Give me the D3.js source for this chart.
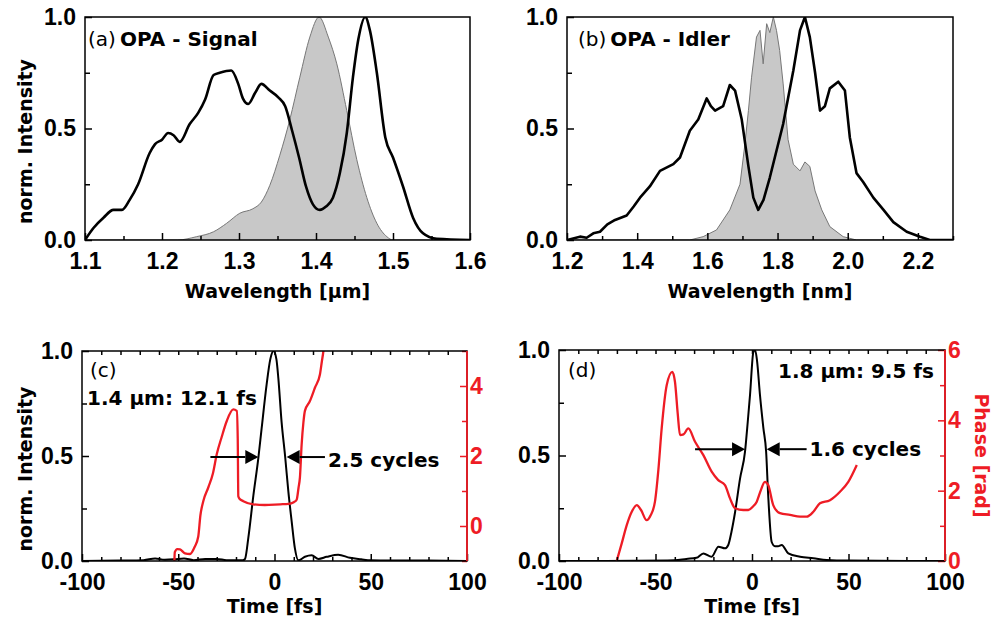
<!DOCTYPE html>
<html>
<head>
<meta charset="utf-8">
<script src="https://cdn.jsdelivr.net/npm/d3@7"></script>
<style>
  body { margin: 0; background: #fff; }
</style>
</head>
<body>
<script>
// canvas size
const W = 994;
const H = 626;

// (a) OPA signal spectra: [wavelength µm, norm. intensity]
const signalGray = [[1.100,0],[1.220,0],[1.245,0.015],[1.267,0.037],[1.284,0.075],[1.301,0.12],[1.318,0.14],[1.329,0.17],[1.340,0.245],[1.353,0.38],[1.366,0.54],[1.379,0.73],[1.392,0.91],[1.404,1.0],[1.416,0.91],[1.427,0.79],[1.440,0.58],[1.453,0.36],[1.466,0.19],[1.479,0.075],[1.492,0.015],[1.500,0],[1.600,0]];
const signalBlack = [[1.100,0.00],[1.111,0.054],[1.124,0.10],[1.137,0.135],[1.148,0.135],[1.158,0.18],[1.169,0.25],[1.184,0.39],[1.191,0.43],[1.200,0.45],[1.208,0.48],[1.215,0.47],[1.223,0.44],[1.236,0.52],[1.247,0.57],[1.256,0.63],[1.267,0.74],[1.275,0.75],[1.290,0.76],[1.299,0.70],[1.305,0.635],[1.312,0.61],[1.321,0.66],[1.329,0.70],[1.340,0.67],[1.351,0.64],[1.360,0.60],[1.369,0.49],[1.378,0.37],[1.387,0.24],[1.396,0.16],[1.405,0.135],[1.413,0.15],[1.422,0.19],[1.431,0.30],[1.440,0.48],[1.448,0.73],[1.455,0.90],[1.464,1.00],[1.470,0.94],[1.479,0.75],[1.490,0.46],[1.500,0.37],[1.513,0.24],[1.526,0.10],[1.539,0.03],[1.557,0.005],[1.600,0.00]];

// (b) OPA idler spectra
const idlerGray = [[1.200,0],[1.550,0],[1.588,0.015],[1.626,0.045],[1.664,0.135],[1.693,0.25],[1.707,0.43],[1.717,0.58],[1.726,0.73],[1.740,0.91],[1.750,0.94],[1.759,0.79],[1.769,0.97],[1.778,0.93],[1.788,1.00],[1.797,0.94],[1.806,0.85],[1.816,0.70],[1.830,0.45],[1.845,0.34],[1.864,0.31],[1.878,0.35],[1.892,0.33],[1.907,0.22],[1.926,0.135],[1.949,0.06],[1.987,0.015],[2.025,0],[2.300,0]];
const idlerBlack = [[1.200,0],[1.237,0.015],[1.256,0.01],[1.275,0.03],[1.294,0.037],[1.315,0.07],[1.337,0.09],[1.370,0.11],[1.390,0.15],[1.408,0.19],[1.436,0.24],[1.465,0.31],[1.503,0.34],[1.522,0.37],[1.550,0.49],[1.574,0.54],[1.598,0.635],[1.610,0.60],[1.622,0.58],[1.645,0.60],[1.664,0.695],[1.679,0.67],[1.698,0.54],[1.717,0.33],[1.731,0.19],[1.745,0.135],[1.760,0.18],[1.778,0.28],[1.816,0.52],[1.845,0.76],[1.864,0.94],[1.878,1.00],[1.892,0.91],[1.907,0.75],[1.921,0.58],[1.935,0.60],[1.949,0.68],[1.973,0.71],[1.992,0.67],[2.006,0.46],[2.025,0.30],[2.044,0.26],[2.073,0.19],[2.102,0.135],[2.130,0.08],[2.168,0.037],[2.206,0.015],[2.234,0],[2.300,0]];

// (c) 1.4 µm pulse: [time fs, intensity] and phase [time fs, rad]
const pulse14 = [[-100,0],[-80,0.002],[-68,0.004],[-62,0.012],[-57,0.006],[-52,0.008],[-47,0.012],[-42,0.004],[-36,0.01],[-30,0.01],[-25,0.004],[-20,0.003],[-16.5,0.003],[-15.3,0.01],[-13.6,0.11],[-11.0,0.31],[-8.4,0.49],[-6.7,0.63],[-4.1,0.84],[-2.2,0.96],[-0.5,1.0],[1.0,0.96],[2.0,0.87],[3.7,0.66],[5.5,0.50],[7.2,0.33],[8.9,0.19],[10.6,0.06],[12.4,0.003],[15.8,0.02],[19.3,0.027],[22.8,0.01],[27.1,0.02],[33.1,0.03],[39.2,0.015],[45,0.008],[50,0.003],[60,0.002],[75,0.002],[100,0]];
const phase14 = [[-52.0,-1],[-51.8,-0.75],[-50.5,-0.66],[-49.1,-0.67],[-46.5,-0.78],[-43.9,-0.80],[-41.5,-0.6],[-39.6,-0.3],[-38.5,0.3],[-37,0.71],[-34.4,1.1],[-32,1.5],[-30,2.05],[-27.4,2.55],[-24.8,3.0],[-21.4,3.33],[-19.6,3.29],[-19.1,2.5],[-18.8,0.85],[-18.2,0.78],[-16.2,0.71],[-11,0.62],[-5,0.60],[2.9,0.62],[7.2,0.63],[10,0.68],[11.5,0.75],[12.5,1.1],[13.2,1.38],[14.1,2.33],[15.0,2.95],[15.8,3.29],[18.4,3.57],[21.0,3.95],[23.6,4.33],[24.6,4.7],[25.4,5.0],[25.6,5.1]];

// (d) 1.8 µm pulse and phase
const pulse18 = [[-100,0],[-60,0.001],[-40,0.003],[-34,0.01],[-28.8,0.015],[-25.2,0.036],[-20.9,0.02],[-17.4,0.068],[-14,0.06],[-12.3,0.076],[-10.6,0.14],[-8.8,0.23],[-6.2,0.39],[-3.6,0.52],[-2.2,0.66],[-1,0.79],[0.7,0.99],[1.6,1.0],[2.6,0.95],[4.1,0.79],[5.9,0.63],[7.3,0.52],[8.4,0.31],[10.2,0.09],[11.9,0.07],[13.5,0.07],[15.4,0.076],[18.8,0.036],[24.9,0.02],[31.8,0.013],[38.7,0.005],[50,0.002],[100,0]];
const phase18 = [[-70.1,0],[-67.5,0.5],[-64.9,1.02],[-62.3,1.4],[-59.7,1.59],[-57.5,1.45],[-54.6,1.16],[-52.5,1.3],[-50.3,1.68],[-48.5,2.6],[-46.8,3.77],[-44.2,5.0],[-41.3,5.38],[-39.9,5.09],[-38.5,4.2],[-37.3,3.58],[-35.5,3.6],[-33,3.77],[-29.5,3.39],[-25.2,3.01],[-20.9,2.54],[-17.5,2.30],[-14,2.16],[-11.4,1.78],[-8.8,1.50],[-4.5,1.45],[-1.9,1.45],[0.5,1.55],[2.4,1.68],[4.5,2.0],[6.7,2.25],[8.4,2.16],[11,1.59],[14.5,1.36],[19.7,1.31],[24.9,1.26],[28.3,1.26],[31.8,1.40],[35.2,1.64],[40.4,1.73],[45.6,1.97],[49.9,2.25],[54.3,2.73]];

// FWHM arrows: [tail time, tip time, intensity level]
const arrows14 = [[-33.3, -8.4, 0.495], [26.2, 6.3, 0.495]];
const arrows18 = [[-29.5, -3.6, 0.53], [28.3, 7.6, 0.53]];

// tick values
const ticksA = [1.1, 1.2, 1.3, 1.4, 1.5, 1.6];
const ticksB = [1.2, 1.4, 1.6, 1.8, 2.0, 2.2];
const ticksTime = [-100, -50, 0, 50, 100];
const ticksInt = [0, 0.5, 1];
const ticksPhaseC = [0, 2, 4];
const ticksPhaseD = [0, 2, 4, 6];

const tickFont = "'Liberation Sans', Arial, sans-serif";
const textFont = "'DejaVu Sans', sans-serif";
const red = "#ee1c25";

const svg = d3.select("body").append("svg").attr("width", W).attr("height", H);

// add an axis group, strip the domain line, set tick fonts
function addAxis(g, gen, tx, ty, color) {
  const a = g.append("g")
    .attr("transform", `translate(${tx},${ty})`)
    .call(gen)
    .attr("font-family", tickFont)
    .attr("font-size", 23)
    .attr("font-weight", "bold")
    .attr("color", color || "#000");
  a.select(".domain").remove();
  a.selectAll("line").attr("stroke-width", 1.5);
  return a;
}

// set up one panel: scales, clip area, ticks
function panel(id, box, xDomain, xTicks, xMinor, xFmt, yDomain) {
  const x = d3.scaleLinear().domain(xDomain).range([box.left, box.right]);
  const y = d3.scaleLinear().domain(yDomain || [0, 1]).range([box.bottom, box.top]);
  const g = svg.append("g").attr("id", id);
  svg.append("clipPath").attr("id", "clip-" + id).append("rect")
    .attr("x", box.left).attr("y", box.top)
    .attr("width", box.right - box.left).attr("height", box.bottom - box.top);
  const plot = g.append("g").attr("clip-path", `url(#clip-${id})`);

  // bottom ticks (inward)
  addAxis(g, d3.axisBottom(x).tickValues(xMinor).tickSize(-4).tickFormat(""), 0, box.bottom);
  addAxis(g, d3.axisBottom(x).tickValues(xTicks).tickSize(-7).tickPadding(13).tickFormat(xFmt), 0, box.bottom);
  // left ticks
  addAxis(g, d3.axisLeft(y).tickValues([0.25, 0.75]).tickSize(-5).tickFormat(""), box.left, 0);
  addAxis(g, d3.axisLeft(y).tickValues(ticksInt).tickSize(-7).tickPadding(9).tickFormat(d3.format(".1f")), box.left, 0);
  return { g, plot, x, y, box };
}

function frame(p, rightColor) {
  const b = p.box;
  p.g.append("rect")
    .attr("x", b.left).attr("y", b.top)
    .attr("width", b.right - b.left).attr("height", b.bottom - b.top)
    .attr("fill", "none").attr("stroke", "#000").attr("stroke-width", 1.5);
  if (rightColor) {
    p.g.append("line")
      .attr("x1", b.right).attr("x2", b.right).attr("y1", b.top).attr("y2", b.bottom)
      .attr("stroke", rightColor).attr("stroke-width", 1.8);
  }
}

function spectrum(p, gray, black, curve) {
  const area = d3.area().x(d => p.x(d[0])).y0(p.y(0)).y1(d => p.y(d[1])).curve(curve);
  const edge = d3.line().x(d => p.x(d[0])).y(d => p.y(d[1])).curve(curve);
  p.plot.append("path").datum(gray).attr("d", area).attr("fill", "#c8c8c8");
  p.plot.append("path").datum(gray).attr("d", edge).attr("fill", "none").attr("stroke", "#777").attr("stroke-width", 1);
  p.plot.append("path").datum(black).attr("d", edge).attr("fill", "none")
    .attr("stroke", "#000").attr("stroke-width", 2.6).attr("stroke-linejoin", "round");
}

function label(g, x, y, parts, size) {
  const t = g.append("text").attr("x", x).attr("y", y)
    .attr("font-family", textFont).attr("font-size", size || 20);
  parts.forEach((pt, i) => {
    t.append("tspan").attr("font-weight", pt[1] ? "bold" : "normal")
      .attr("dx", i > 0 ? 4 : 0).text(pt[0]);
  });
  return t;
}

function xTitle(p, text, dy) {
  p.g.append("text")
    .attr("x", (p.box.left + p.box.right) / 2).attr("y", p.box.bottom + dy)
    .attr("text-anchor", "middle")
    .attr("font-family", textFont).attr("font-size", 19).attr("font-weight", "bold")
    .text(text);
}

function yTitle(p, text) {
  const cy = (p.box.top + p.box.bottom) / 2 + 13;
  p.g.append("text")
    .attr("transform", `translate(32,${cy}) rotate(-90)`)
    .attr("text-anchor", "middle")
    .attr("font-family", textFont).attr("font-size", 19).attr("font-weight", "bold")
    .text(text);
}

function arrows(p, list) {
  list.forEach(a => {
    const x1 = p.x(a[0]), x2 = p.x(a[1]), yy = p.y(a[2]);
    const dir = x2 > x1 ? 1 : -1;
    const hl = 13, hw = 7;
    p.g.append("line")
      .attr("x1", x1).attr("x2", x2 - dir * hl).attr("y1", yy).attr("y2", yy)
      .attr("stroke", "#000").attr("stroke-width", 2);
    p.g.append("path")
      .attr("d", `M${x2},${yy}L${x2 - dir * hl},${yy - hw}L${x2 - dir * hl},${yy + hw}Z`)
      .attr("fill", "#000");
  });
}

// ---------- (a) signal ----------
const pa = panel("pa", { left: 85, right: 470, top: 17, bottom: 240 },
  [1.1, 1.6], ticksA, d3.range(1.15, 1.6, 0.1), d3.format(".1f"));
spectrum(pa, signalGray, signalBlack, d3.curveMonotoneX);
frame(pa);
label(pa.g, 88, 46, [["(a)", false], ["OPA - Signal", true]]);
xTitle(pa, "Wavelength [µm]", 58);
yTitle(pa, "norm. Intensity");

// ---------- (b) idler ----------
const pb = panel("pb", { left: 567, right: 953, top: 17, bottom: 240 },
  [1.2, 2.3], ticksB, d3.range(1.3, 2.31, 0.2), d3.format(".1f"));
spectrum(pb, idlerGray, idlerBlack, d3.curveLinear);
frame(pb);
label(pb.g, 578, 46, [["(b)", false], ["OPA - Idler", true]]);
xTitle(pb, "Wavelength [nm]", 58);

// ---------- time panels ----------
function timePanel(id, box, phaseDomain, phaseTicks, pulse, phase) {
  const p = panel(id, box, [-100, 100], ticksTime, d3.range(-90, 100, 10).filter(d => d % 50 !== 0), d => d);
  // top ticks
  addAxis(p.g, d3.axisTop(p.x).tickValues(d3.range(-90, 100, 10)).tickSize(-4).tickFormat(""), 0, box.top);
  const yp = d3.scaleLinear().domain(phaseDomain).range([box.bottom, box.top]);
  const minor = d3.range(phaseDomain[0], phaseDomain[1] + 1, 1).filter(d => !phaseTicks.includes(d));
  addAxis(p.g, d3.axisRight(yp).tickValues(minor).tickSize(-5).tickFormat(""), box.right, 0, red);
  addAxis(p.g, d3.axisRight(yp).tickValues(phaseTicks).tickSize(-7).tickPadding(3).tickFormat(d => d), box.right, 0, red);

  const line = d3.line().x(d => p.x(d[0])).y(d => p.y(d[1])).curve(d3.curveMonotoneX);
  const pline = d3.line().x(d => p.x(d[0])).y(d => yp(d[1])).curve(d3.curveMonotoneX);
  p.plot.append("path").datum(pulse).attr("d", line).attr("fill", "none")
    .attr("stroke", "#000").attr("stroke-width", 2);
  p.plot.append("path").datum(phase).attr("d", pline).attr("fill", "none")
    .attr("stroke", red).attr("stroke-width", 2.3);
  frame(p, red);
  xTitle(p, "Time [fs]", 52);
  return p;
}

// (c) 1.4 µm
const pc = timePanel("pc", { left: 82, right: 467, top: 351, bottom: 561 }, [-1, 5], ticksPhaseC, pulse14, phase14);
arrows(pc, arrows14);
label(pc.g, 90, 377, [["(c)", false]]);
label(pc.g, 87, 405, [["1.4 µm: 12.1 fs", true]]);
label(pc.g, pc.x(arrows14[1][0]) + 3, pc.y(arrows14[1][2]) + 10, [["2.5 cycles", true]]);
yTitle(pc, "norm. Intensity");

// (d) 1.8 µm
const pd = timePanel("pd", { left: 559, right: 945, top: 350, bottom: 561 }, [0, 6], ticksPhaseD, pulse18, phase18);
arrows(pd, arrows18);
label(pd.g, 568, 377, [["(d)", false]]);
label(pd.g, 778, 378, [["1.8 µm: 9.5 fs", true]]);
label(pd.g, pd.x(arrows18[1][0]) + 3, pd.y(arrows18[1][2]) + 7, [["1.6 cycles", true]]);
pd.g.append("text")
  .attr("transform", `translate(975,${(350 + 561) / 2}) rotate(90)`)
  .attr("text-anchor", "middle")
  .attr("font-family", textFont).attr("font-size", 19).attr("font-weight", "bold")
  .attr("fill", red)
  .text("Phase [rad]");
</script>
</body>
</html>
